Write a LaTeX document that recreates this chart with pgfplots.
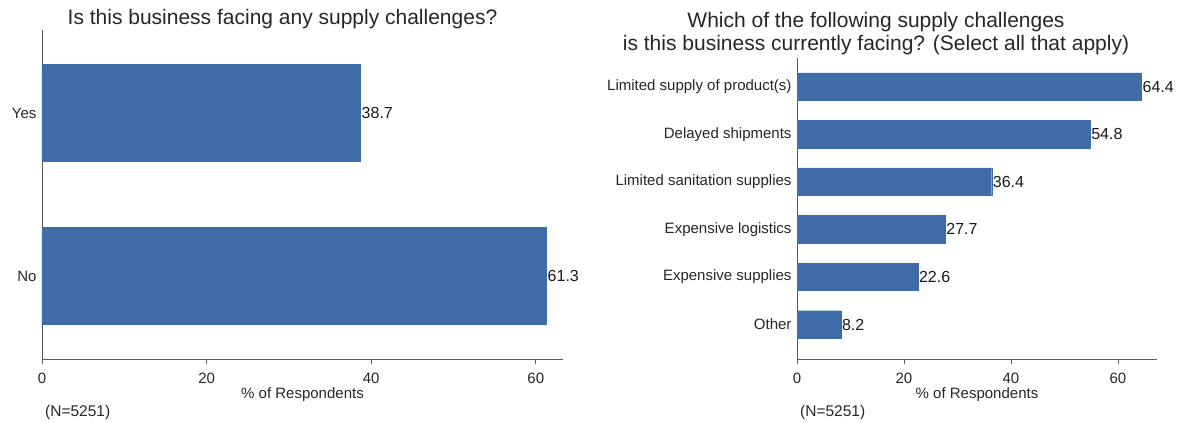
\documentclass[border=0pt]{standalone}
\usepackage{fontspec}
\setmainfont{Liberation Sans}
\usepackage{pgfplots}
\pgfplotsset{compat=1.18}

\definecolor{barblue}{RGB}{61,108,166}
\definecolor{axgray}{RGB}{90,90,90}

\pgfplotsset{
  statabar/.style={
    xbar,
    scale only axis,
    enlargelimits=false,
    axis x line*=bottom,
    axis y line*=left,
    axis line style={-, draw=axgray, line width=0.9pt},
    xmin=0,
    xtick={0,20,40,60},
    tick align=outside,
    major tick length=5pt,
    x tick style={draw=axgray, line width=0.8pt},
    y tick style={draw=none},
    /pgf/number format/assume math mode=true,
    tick label style={font=\fontsize{15}{18}\selectfont, text=black!85},
    xticklabel style={anchor=base, yshift=-19pt},
    yticklabel style={anchor=east, xshift=3pt},
    xlabel={\% of Respondents},
    xlabel style={font=\fontsize{15}{18}\selectfont, text=black!85,
      at={(axis description cs:0.5,0)}, anchor=base, yshift=-39pt},
    nodes near coords,
    point meta=x,
    nodes near coords={\pgfmathprintnumber[fixed, fixed zerofill, precision=1]{\pgfplotspointmeta}},
    every node near coord/.append style={font=\fontsize{16}{18}\selectfont,
      text=black!90, anchor=west, inner sep=1pt},
    clip=false,
  },
}

\begin{document}
\begin{tikzpicture}
\path[use as bounding box] (0,0) rectangle (1178pt,423pt);

% left panel
\begin{axis}[statabar,
  at={(42pt,64pt)}, anchor=south west,
  width=521pt, height=329pt,
  xmax=63.3, ymin=-0.51, ymax=1.51,
  bar width=97pt,
  ytick={0,1}, yticklabels={No,Yes},
]
  \addplot[fill=barblue, draw=barblue] coordinates {(61.3,0) (38.7,1)};
\end{axis}

% right panel
\begin{axis}[statabar,
  at={(797pt,64pt)}, anchor=south west,
  width=360pt, height=301pt,
  xmax=67.3, ymin=-0.725, ymax=5.6,
  bar width=27.5pt,
  ytick={0,1,2,3,4,5},
  yticklabels={Other, Expensive supplies, Expensive logistics,
    Limited sanitation supplies, Delayed shipments, Limited supply of product(s)},
]
  \addplot[fill=barblue, draw=barblue] coordinates {
    (8.2,0) (22.6,1) (27.7,2) (36.4,3) (54.8,4) (64.4,5)};
\end{axis}

% titles
\node[anchor=base, font=\fontsize{21}{24}\selectfont, text=black!85]
  at (282.5pt,398pt) {Is this business facing any supply challenges?};
\node[anchor=base, font=\fontsize{21}{24}\selectfont, text=black!85]
  at (876pt,395pt) {Which of the following supply challenges};
\node[anchor=base, font=\fontsize{21}{24}\selectfont, text=black!85]
  at (876pt,372.5pt) {is this business currently facing? (Select all that apply)};

% sample size notes
\node[anchor=base west, inner sep=0pt, font=\fontsize{15.5}{18}\selectfont, text=black!85]
  at (45pt,6pt) {(N=5251)};
\node[anchor=base west, inner sep=0pt, font=\fontsize{15.5}{18}\selectfont, text=black!85]
  at (800pt,6pt) {(N=5251)};
\end{tikzpicture}
\end{document}
